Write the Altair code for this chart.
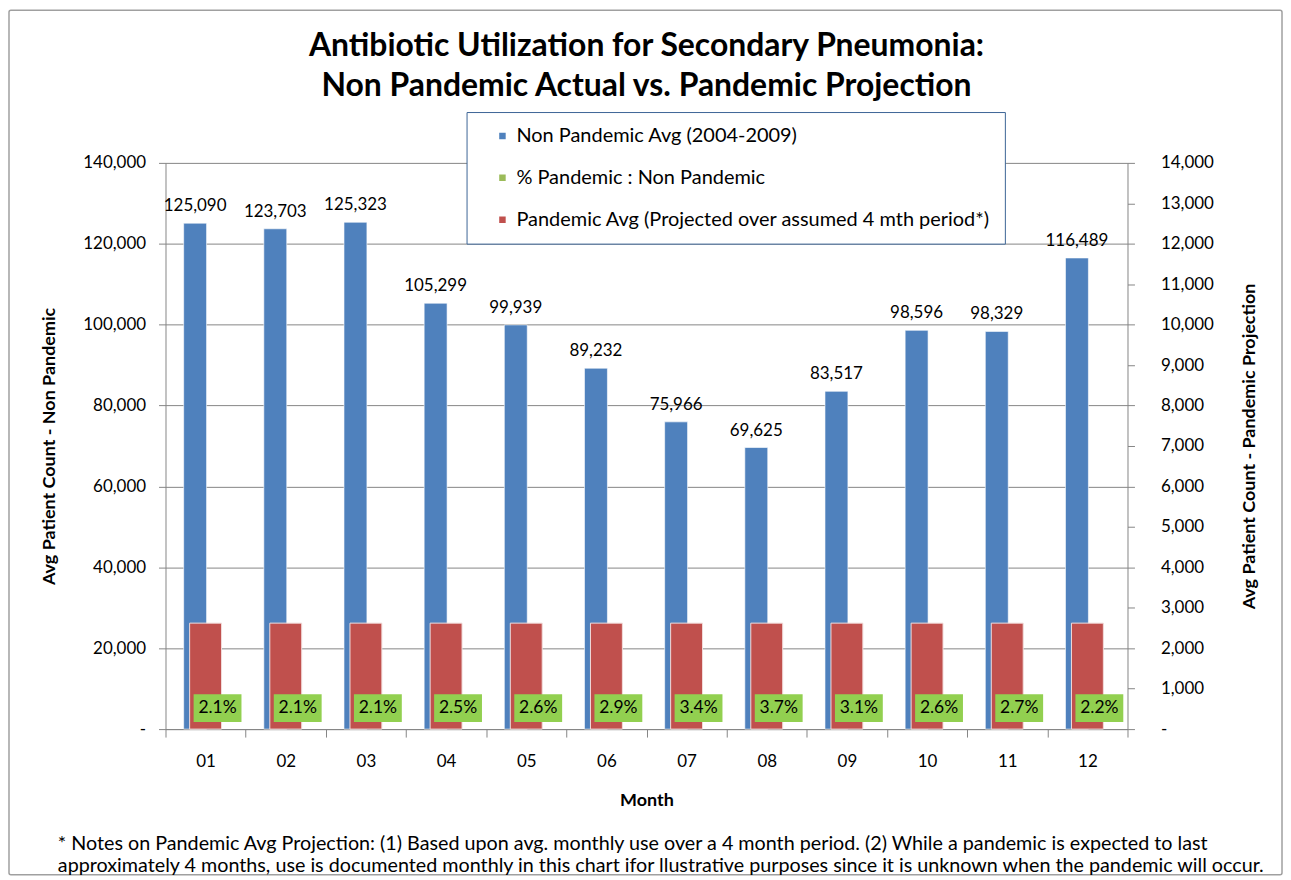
import altair as alt
import pandas as pd

# ---------------- data ----------------
months = ["01", "02", "03", "04", "05", "06", "07", "08", "09", "10", "11", "12"]
non_pandemic_avg = [125090, 123703, 125323, 105299, 99939, 89232, 75966, 69625, 83517, 98596, 98329, 116489]
pandemic_avg = [2620, 2620, 2620, 2620, 2620, 2620, 2620, 2620, 2620, 2620, 2620, 2620]
pct_pandemic = [0.021, 0.021, 0.021, 0.025, 0.026, 0.029, 0.034, 0.037, 0.031, 0.026, 0.027, 0.022]
series_names = [
    "Non Pandemic Avg (2004-2009)",
    "% Pandemic : Non Pandemic",
    "Pandemic Avg (Projected over assumed 4 mth period*)",
]
series_colors = ["#4F81BD", "#9BBB59", "#C0504D"]
left_ticks = [0, 20000, 40000, 60000, 80000, 100000, 120000, 140000]
right_ticks = [0, 1000, 2000, 3000, 4000, 5000, 6000, 7000, 8000, 9000, 10000, 11000, 12000, 13000, 14000]
title_lines = [
    "Antibiotic Utilization for Secondary Pneumonia:",
    "Non Pandemic  Actual vs. Pandemic Projection",
]
note_text = (
    "* Notes on Pandemic Avg Projection:  (1)  Based upon avg. monthly use over a 4 month period.  "
    "(2)  While a pandemic is expected to last\n"
    "approximately 4 months, use is documented monthly in this chart ifor llustrative purposes "
    "since it is unknown when the pandemic will occur."
)

df_np = pd.DataFrame({"month": months, "value": non_pandemic_avg, "series": series_names[0]})
df_pct = pd.DataFrame({"month": months, "value": pct_pandemic, "series": series_names[1]})
df_pa = pd.DataFrame({"month": months, "value": pandemic_avg, "series": series_names[2]})

FONT = "Lato"
AX = "#868686"

X = alt.X(
    "month:N",
    sort=months,
    scale=alt.Scale(paddingInner=0, paddingOuter=0),
    axis=alt.Axis(
        title="Month", tickBand="extent", tickSize=8, labelAngle=0, labelPadding=17,
        titlePadding=22, labelFontSize=17, titleFontSize=18, titleFontWeight="bold",
        domainColor=AX, tickColor=AX, labelColor="black", titleColor="black",
        grid=False,
    ),
)

color = alt.Color(
    "series:N",
    scale=alt.Scale(domain=series_names, range=series_colors),
    legend=alt.Legend(
        title=None, orient="none", legendX=302, legendY=-51, fillColor="white",
        strokeColor="#3C6496", padding=14, symbolType="square", symbolSize=64,
        symbolOffset=12, labelFontSize=20, labelColor="black", rowPadding=22,
        labelLimit=700, labelOffset=4,
    ),
)

label_expr = "datum.value == 0 ? '-' : format(datum.value, ',')"

Y_left = alt.Y(
    "value:Q",
    scale=alt.Scale(domain=[0, 140000], nice=False),
    axis=alt.Axis(
        orient="left", values=left_ticks, labelExpr=label_expr, grid=True, gridColor=AX,
        tickSize=7, tickColor=AX, domainColor=AX, labelFontSize=17, labelPadding=13,
        labelColor="black", title="Avg Patient Count - Non Pandemic", titleFontSize=18,
        titleFontWeight="bold", titleColor="black", titlePadding=24,
    ),
)

Y_right = alt.Y(
    "value:Q",
    scale=alt.Scale(domain=[0, 14000], nice=False),
    axis=alt.Axis(
        orient="right", values=right_ticks, labelExpr=label_expr, grid=False,
        tickSize=7, tickColor=AX, domainColor=AX, labelFontSize=17, labelPadding=26,
        labelColor="black", title="Avg Patient Count - Pandemic Projection", titleFontSize=18,
        titleFontWeight="bold", titleColor="black", titlePadding=27, titleAngle=270,
        titleBaseline="top",
    ),
)

border = alt.Chart(pd.DataFrame({"k": [0]})).mark_rect(
    fill="white", fillOpacity=0, stroke="#A0A0A0", strokeWidth=1.5, cornerRadius=2
).encode(x=alt.value(-157), x2=alt.value(1120), y=alt.value(-153), y2=alt.value(714))

blue_bar = alt.Chart(df_np).mark_bar(size=23, xOffset=-10.5, stroke="#FFFFFF", strokeWidth=0.6).encode(
    x=X, y=Y_left, color=color
)
blue_text = alt.Chart(df_np).mark_text(
    dy=-17, xOffset=-10.5, fontSize=17, baseline="middle", color="black"
).encode(x=X, y=Y_left, text=alt.Text("value:Q", format=","))
left = alt.layer(blue_bar, blue_text)

red_bar = alt.Chart(df_pa).mark_bar(size=32, stroke="#F2DCDB", strokeWidth=1).encode(
    x=X, y=Y_right, color=color
)
green_bar = alt.Chart(df_pct).mark_bar(size=21, xOffset=12.5).encode(x=X, y=Y_right, color=color)
right = alt.layer(red_bar, green_bar)

green_box = alt.Chart(df_pct).mark_bar(size=48, xOffset=12, color="#92D050").encode(
    x=X, y=alt.value(533), y2=alt.value(561)
)
green_text = alt.Chart(df_pct).mark_text(
    xOffset=12, fontSize=17.5, baseline="middle", color="black"
).encode(x=X, y=alt.value(547), text=alt.Text("value:Q", format=".1%"))
overlay = alt.layer(green_box, green_text)

note = alt.Chart(pd.DataFrame({"k": [0]})).mark_text(
    align="left", baseline="top", fontSize=19.8, lineHeight=22, lineBreak="\n", color="black"
).encode(x=alt.value(-108), y=alt.value(673), text=alt.value(note_text))

chart = (
    alt.layer(border, left, right, overlay, note)
    .resolve_scale(y="independent")
    .properties(
        width=965,
        height=568,
        padding=0,
        title=alt.Title(
            title_lines, fontSize=32, fontWeight="bold", anchor="middle", offset=-94,
            lineHeight=40, font=FONT, color="black",
        ),
    )
    .configure(font=FONT)
    .configure_view(stroke=None)
)

chart.save("out.html", embed_options={"renderer": "svg", "actions": False})
